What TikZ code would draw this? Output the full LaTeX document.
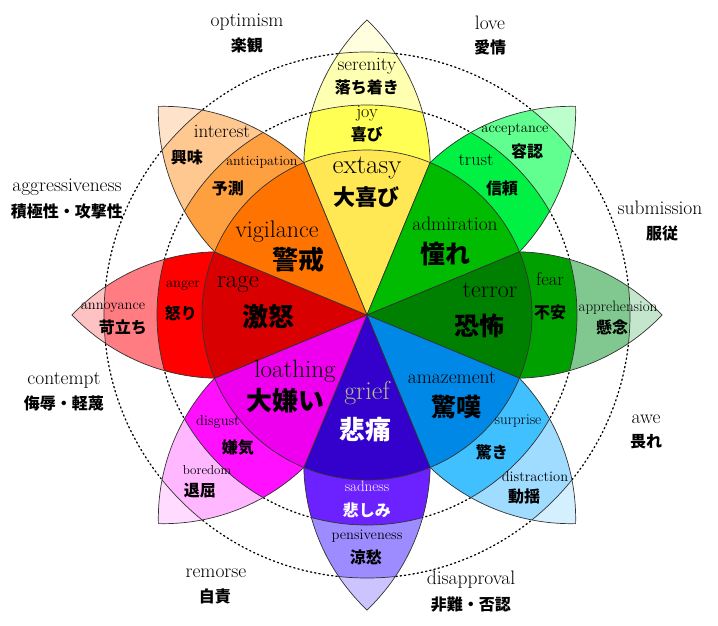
\documentclass[tikz,border=0pt]{standalone}
\usepackage{fontspec}
\newfontfamily\jp{Noto Sans CJK JP}
\usetikzlibrary{positioning}

% colours, inner to outer
\definecolor{extasyc}{HTML}{FFE854}\definecolor{joyc}{HTML}{FFFF54}\definecolor{serenc}{HTML}{FFFFB1}\definecolor{joytip}{HTML}{FFFFE0}
\definecolor{admirc}{HTML}{00BB00}\definecolor{trustc}{HTML}{00F044}\definecolor{acceptc}{HTML}{60FF90}\definecolor{trusttip}{HTML}{BCFFCC}
\definecolor{terrorc}{HTML}{008000}\definecolor{fearc}{HTML}{00A000}\definecolor{apprc}{HTML}{80C890}\definecolor{feartip}{HTML}{C4E6CC}
\definecolor{amazec}{HTML}{0088E6}\definecolor{surpc}{HTML}{40C0FF}\definecolor{distrc}{HTML}{A0DCFF}\definecolor{surptip}{HTML}{D4F0FF}
\definecolor{griefc}{HTML}{3300CC}\definecolor{sadc}{HTML}{6C22FF}\definecolor{pensc}{HTML}{9C8CFF}\definecolor{sadtip}{HTML}{CCC4FF}
\definecolor{loathc}{HTML}{EE00EE}\definecolor{disgc}{HTML}{FF10FF}\definecolor{boredc}{HTML}{FFB8FF}\definecolor{disgtip}{HTML}{FFDCFF}
\definecolor{ragec}{HTML}{D80000}\definecolor{angerc}{HTML}{FF0000}\definecolor{annoyc}{HTML}{FF7C82}\definecolor{angertip}{HTML}{FFC2C2}
\definecolor{vigilc}{HTML}{FF7400}\definecolor{anticc}{HTML}{FFA040}\definecolor{interc}{HTML}{FFC890}\definecolor{antictip}{HTML}{FFE2CA}
\definecolor{griefink}{HTML}{B4BE8C}

% one petal: two arcs from the centre to the tip
\newcommand\petalpath{(0,0) arc[start angle=-46.4, end angle=46.4, radius=203.7] arc[start angle=133.6, end angle=226.4, radius=203.7] -- cycle}
\newcommand\petal[4]{%
  \begin{scope}[rotate=#1]
    \begin{scope}
      \clip \petalpath;
      \fill[#2] (0,0) circle[radius=295];
      \filldraw[rim, fill=#3] (0,0) circle[radius=263];
      \filldraw[rim, fill=#4] (0,0) circle[radius=210];
    \end{scope}
    \draw[rim] \petalpath;
  \end{scope}}

\begin{document}
\begin{tikzpicture}[x=1pt, y=1pt,
  rim/.style={draw=black!80, line width=0.7pt},
  ring/.style={line width=1.3pt, dash pattern=on 1.3pt off 3pt, line cap=round},
  en/.style={font=\fontsize{#1}{#1}\selectfont, inner sep=0pt},
  ja/.style={font=\jp\bfseries\fontsize{#1}{#1}\selectfont, inner sep=0pt}]
\useasboundingbox (-367,-310) rectangle (351,315);

\draw[ring] (0,0) circle[radius=210] (0,0) circle[radius=263];

\petal{0}{joytip}{serenc}{joyc}
\petal{-45}{trusttip}{acceptc}{trustc}
\petal{-90}{feartip}{apprc}{fearc}
\petal{-135}{surptip}{distrc}{surpc}
\petal{180}{sadtip}{pensc}{sadc}
\petal{135}{disgtip}{boredc}{disgc}
\petal{90}{angertip}{annoyc}{angerc}
\petal{45}{antictip}{interc}{anticc}

\foreach \a/\c in {90/extasyc, 45/admirc, 0/terrorc, -45/amazec, -90/griefc, -135/loathc, 180/ragec, 135/vigilc}
  \filldraw[rim, fill=\c] (0,0) -- (\a-22.5:165) arc[start angle=\a-22.5, end angle=\a+22.5, radius=165] -- cycle;

% joy
\node[en=19] (serenity) at (0,249) {serenity};
\node[ja=16] (serenityj) at (0,228) {落ち着き};
\node[en=18] (joy) at (0,201) {joy};
\node[ja=16] (joyj) at (0,181) {喜び};
\node[en=27] (extasy) at (0,147) {extasy};
\node[ja=22] (extasyj) at (0,118) {大喜び};
% trust
\node[en=14.5] (accept) at (148,186) {acceptance};
\node[ja=16] (acceptj) at (160,164) {容認};
\node[en=18] (trust) at (109,155) {trust};
\node[ja=16] (trustj) at (135,127) {信頼};
\node[en=19.5] (admir) at (88,91) {admiration};
\node[ja=25] (admirj) at (79,61) {憧れ};
% fear
\node[en=18.5] (fear) at (183,36) {fear};
\node[ja=16] (fearj) at (183,3) {不安};
\node[en=15] (appr) at (251,7) {apprehension};
\node[ja=16] (apprj) at (245,-12) {懸念};
\node[en=24] (terror) at (123,25) {terror};
\node[ja=25] (terrorj) at (113,-11) {恐怖};
% surprise
\node[en=19.5] (amaze) at (85,-63) {amazement};
\node[ja=25] (amazej) at (90,-92) {驚嘆};
\node[en=15] (surp) at (151,-106) {surprise};
\node[ja=16] (surpj) at (125,-137) {驚き};
\node[en=14.5] (distr) at (168,-162) {distraction};
\node[ja=16] (distrj) at (157,-181) {動揺};
% sadness
\node[en=26, text=griefink] (grief) at (0,-78) {grief};
\node[ja=26, text=white] (griefj) at (-1,-115) {悲痛};
\node[en=15, text=white] (sad) at (0,-171) {sadness};
\node[ja=16, text=white] (sadj) at (0,-195) {悲しみ};
\node[en=14.5] (pens) at (0,-221) {pensiveness};
\node[ja=16] (pensj) at (-1,-242) {涼愁};
% disgust
\node[en=25] (loath) at (-72,-56) {loathing};
\node[ja=26] (loathj) at (-81,-86) {大嫌い};
\node[en=14.5] (disg) at (-149,-107) {disgust};
\node[ja=16] (disgj) at (-129,-133) {嫌気};
\node[en=13] (bored) at (-160,-155) {boredom};
\node[ja=16] (boredj) at (-167,-176) {退屈};
% anger
\node[en=25] (rage) at (-129,31) {rage};
\node[ja=26] (ragej) at (-98,-2) {激怒};
\node[en=14.5] (anger) at (-184,29) {anger};
\node[ja=16] (angerj) at (-186,2) {怒り};
\node[en=14.5] (annoy) at (-254,7) {annoyance};
\node[ja=16] (annoyj) at (-244,-12) {苛立ち};
% anticipation
\node[en=24] (vigil) at (-90,83) {vigilance};
\node[ja=26] (vigilj) at (-68,55) {警戒};
\node[en=14] (antic) at (-105,153) {anticipation};
\node[ja=16] (anticj) at (-139,127) {予測};
\node[en=19] (inter) at (-145,184) {interest};
\node[ja=16] (interj) at (-180,158) {興味};

% dyads round the wheel
\node[en=19.5] (optim) at (-120,293) {optimism};
\node[ja=16] (optimj) at (-120,270) {楽観};
\node[en=19.5] (love) at (123,292) {love};
\node[ja=16] (lovej) at (123,268) {愛情};
\node[en=19.5] (submis) at (293,107) {submission};
\node[ja=16] (submisj) at (295,82) {服従};
\node[en=19.5] (awe) at (279,-104) {awe};
\node[ja=16] (awej) at (279,-127) {畏れ};
\node[en=19.5] (disappr) at (104,-265) {disapproval};
\node[ja=16] (disapprj) at (104,-290) {非難・否認};
\node[en=19.5] (remorse) at (-151,-258) {remorse};
\node[ja=16] (remorsej) at (-152,-281) {自責};
\node[en=19.5] (contempt) at (-303,-65) {contempt};
\node[ja=16] (contemptj) at (-303,-88) {侮辱・軽蔑};
\node[en=19.5] (aggress) at (-300,128) {aggressiveness};
\node[ja=16] (aggressj) at (-300,104) {積極性・攻撃性};
\end{tikzpicture}
\end{document}
